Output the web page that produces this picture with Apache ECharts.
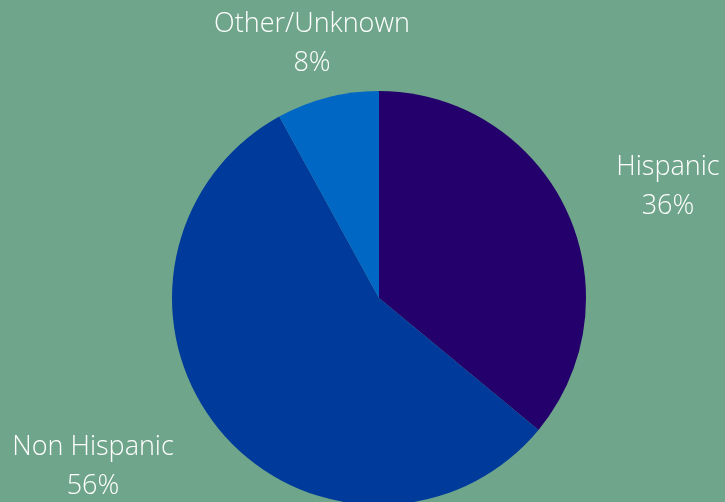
<!DOCTYPE html>
<html>
<head>
<meta charset="utf-8">
<script src="https://cdn.jsdelivr.net/npm/echarts@6/dist/echarts.min.js"></script>
<style>
  html, body { margin: 0; padding: 0; background: #6fa58a; }
  #main { width: 725px; height: 502px; }
</style>
</head>
<body>
<div id="main"></div>
<script>
const categories = ['Hispanic', 'Non Hispanic', 'Other/Unknown'];
const shares = [36, 56, 8];
const sliceColors = ['#23006b', '#003a9b', '#0067c5'];
// where each label sits (center of the two-line block)
const labelSpots = [[668, 187], [93, 467], [312, 44]];

const chart = echarts.init(document.getElementById('main'));
chart.setOption({
  backgroundColor: '#6fa58a',
  series: [
    {
      type: 'pie',
      center: [379, 298],
      radius: 207,
      startAngle: 90,
      clockwise: true,
      silent: true,
      itemStyle: { borderWidth: 0 },
      label: {
        show: true,
        position: 'outside',
        color: '#ffffff',
        fontFamily: 'Open Sans',
        fontWeight: 300,
        fontSize: 27,
        lineHeight: 39,
        align: 'center',
        overflow: 'none',
        formatter: p => `${p.name}\n${p.value}%`,
      },
      labelLine: { show: false },
      labelLayout: params => {
        const spot = labelSpots[params.dataIndex];
        return { x: spot[0], y: spot[1], align: 'center', verticalAlign: 'middle' };
      },
      data: categories.map((name, i) => ({
        name,
        value: shares[i],
        itemStyle: { color: sliceColors[i] },
      })),
    },
  ],
});
</script>
</body>
</html>
